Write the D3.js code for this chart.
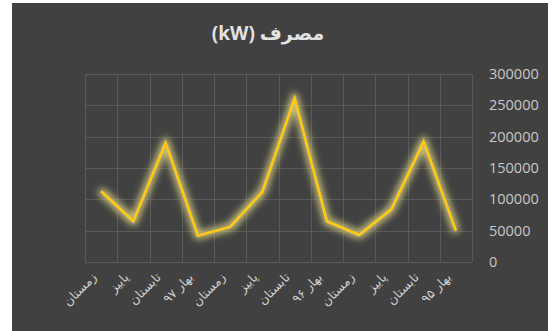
<!DOCTYPE html>
<html>
<head>
<meta charset="utf-8">
<script src="https://cdn.jsdelivr.net/npm/d3@7/dist/d3.min.js"></script>
<style>
  html, body { margin: 0; padding: 0; background: #ffffff; }
  svg { display: block; }
</style>
</head>
<body>
<svg id="chart" width="553" height="331"></svg>
<script>
// Seasonal consumption, ordered as shown on the axis (latest year on the left)
const categories = ["زمستان", "پاییز", "تابستان", "بهار ۹۷",
                    "زمستان", "پاییز", "تابستان", "بهار ۹۶",
                    "زمستان", "پاییز", "تابستان", "بهار ۹۵"];
const consumption = [113000, 65000, 190000, 42000,
                     56000, 112000, 261000, 65000,
                     43000, 84000, 192000, 50000];
const yTicks = [0, 50000, 100000, 150000, 200000, 250000, 300000];
const title = "مصرف (kW)";

const svg = d3.select("#chart");

// Chart panel
svg.append("rect").attr("x", 12).attr("y", 3).attr("width", 536).attr("height", 328)
  .attr("fill", "#414141");

const plot = { left: 85, right: 472, top: 74, bottom: 262 };

const x = d3.scaleBand().domain(d3.range(categories.length))
  .range([plot.left, plot.right]);
const y = d3.scaleLinear().domain([0, 300000]).range([plot.bottom, plot.top]);

// Soft yellow glow around the line
const defs = svg.append("defs");
const glow = defs.append("filter").attr("id", "glow")
  .attr("x", "-20%").attr("y", "-20%").attr("width", "140%").attr("height", "140%");
glow.append("feMorphology").attr("in", "SourceGraphic").attr("operator", "dilate").attr("radius", 2).attr("result", "d");
glow.append("feGaussianBlur").attr("in", "d").attr("stdDeviation", 3.5).attr("result", "b");
glow.append("feColorMatrix").attr("in", "b").attr("type", "matrix")
  .attr("values", "0 0 0 0 0.60  0 0 0 0 0.55  0 0 0 0 0.20  0 0 0 1.0 0").attr("result", "g");
const merge = glow.append("feMerge");
merge.append("feMergeNode").attr("in", "g");
merge.append("feMergeNode").attr("in", "SourceGraphic");

// Grid
const grid = svg.append("g").attr("stroke", "#5a5a5a").attr("stroke-width", 1);
grid.selectAll("line.h").data(yTicks).join("line")
  .attr("x1", plot.left).attr("x2", plot.right)
  .attr("y1", d => Math.round(y(d)) + 0.5).attr("y2", d => Math.round(y(d)) + 0.5);
const vEdges = d3.range(categories.length + 1).map(i => plot.left + i * x.step());
grid.selectAll("line.v").data(vEdges).join("line")
  .attr("x1", d => Math.round(d) + 0.5).attr("x2", d => Math.round(d) + 0.5)
  .attr("y1", plot.top).attr("y2", plot.bottom);

// Right-hand value axis
const yAxis = svg.append("g").attr("transform", `translate(${plot.right + 12},0)`)
  .call(d3.axisRight(y).tickValues(yTicks).tickSize(0).tickPadding(5).tickFormat(d3.format("d")));
yAxis.select(".domain").remove();
yAxis.selectAll("text").attr("fill", "#c8c8c8")
  .style("font-family", "'Open Sans', sans-serif").style("font-size", "14.5px");

// Category labels, rotated
svg.append("g").selectAll("text").data(categories).join("text")
  .attr("transform", (d, i) => `translate(${x(i) + x.bandwidth() / 2 - 7},${plot.bottom + 13}) rotate(-45)`)
  .attr("text-anchor", "end")
  .attr("dy", "0.35em")
  .attr("fill", "#cfcfcf")
  .style("font-family", "'DejaVu Sans', sans-serif")
  .style("font-size", "12.5px")
  .text(d => d);

// Consumption line
const line = d3.line()
  .x((d, i) => x(i) + x.bandwidth() / 2)
  .y(d => y(d));
svg.append("path").datum(consumption)
  .attr("d", line)
  .attr("fill", "none")
  .attr("stroke", "#ffc90e")
  .attr("stroke-width", 2.6)
  .attr("stroke-linejoin", "miter")
  .attr("filter", "url(#glow)");

// Title
svg.append("text").attr("x", 268).attr("y", 40)
  .attr("text-anchor", "middle")
  .attr("direction", "rtl")
  .style("direction", "rtl")
  .attr("fill", "#e2e2e2")
  .style("font-family", "'Open Sans', 'DejaVu Sans', sans-serif")
  .style("font-size", "19px").style("font-weight", "bold")
  .text(title);
</script>
</body>
</html>
